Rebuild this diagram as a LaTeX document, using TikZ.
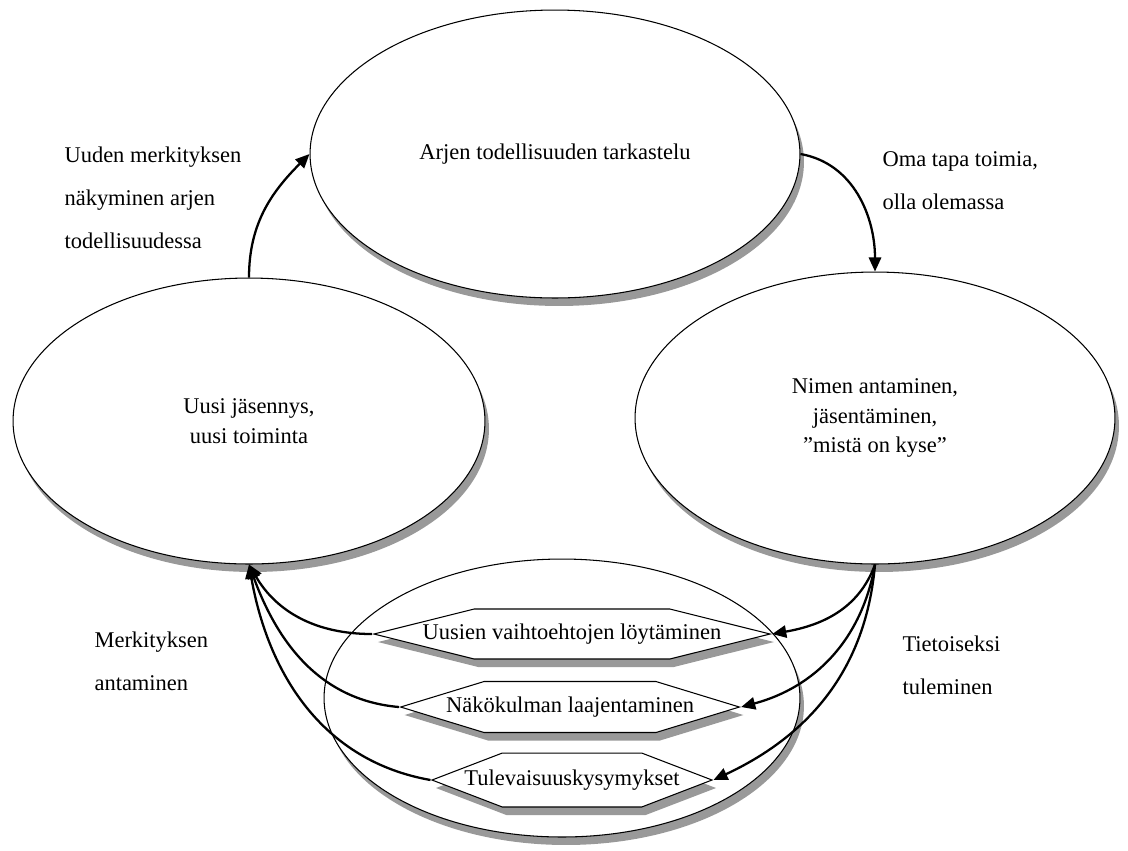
\documentclass[tikz,border=0pt]{standalone}
\usepackage{fontspec}
\setmainfont{Liberation Serif}
\usetikzlibrary{arrows.meta,shapes.geometric,shapes.symbols,shadows}

\begin{document}
\begin{tikzpicture}[x=0.02cm, y=-0.02cm, line width=0.6pt,
	font=\fontsize{12.8}{17}\selectfont,
	>={Triangle[length=8pt,width=7pt]},
	grayshadow/.style={drop shadow={shadow xshift=0.08cm, shadow yshift=-0.16cm, fill=black!40, opacity=1}},
	oval/.style={ellipse, draw, fill=white, grayshadow, align=center},
	hexbox/.style={signal, signal to=west and east, draw, fill=white, grayshadow, minimum width=0pt},
	link/.style={->, line width=1.3pt},
	note/.style={align=left, anchor=west, inner sep=0pt, font=\fontsize{12.8}{24.5}\selectfont}]
	\useasboundingbox (0, 0) rectangle (1128, 850);

	% Эллипсы цикла
	\node[oval, minimum width=9.8cm, minimum height=5.76cm] (arki) at (555, 154) {Arjen todellisuuden tarkastelu};
	\node[oval, minimum width=9.6cm, minimum height=5.84cm] (nimi) at (875, 418) {Nimen antaminen,\\ jäsentäminen,\\ ”mistä on kyse”};
	\node[oval, minimum width=9.44cm, minimum height=5.72cm] (uusi) at (249, 421) {Uusi jäsennys,\\ uusi toiminta};
	\node[oval, minimum width=9.52cm, minimum height=5.56cm] (pohja) at (562, 698) {};

	% Шестиугольники внутри нижнего эллипса
	\node[hexbox, inner xsep=-1.03cm, minimum height=1cm, signal pointer angle=28] (vaihto) at (572, 634) {Uusien vaihtoehtojen löytäminen};
	\node[hexbox, inner xsep=-0.76cm, minimum height=1.02cm, signal pointer angle=34] (kulma) at (570, 707) {Näkökulman laajentaminen};
	\node[hexbox, inner xsep=-0.76cm, minimum height=1.08cm, signal pointer angle=42] (tuleva) at (572, 780) {Tulevaisuuskysymykset};

	% Стрелки цикла
	\draw[link] (uusi.north) to[out=90, in=225] (arki.west);
	\draw[link] (arki.east) to[out=-10, in=90] (nimi.north);

	\draw[link] (nimi.south) to[out=-110, in=10] (vaihto.east);
	\draw[link] (nimi.south) to[out=-100, in=15] (kulma.east);
	\draw[link] (nimi.south) to[out=-95, in=25] (tuleva.east);

	\draw[link] (vaihto.west) to[out=180, in=-60] (uusi.south);
	\draw[link] (kulma.west) to[out=175, in=-70] (uusi.south);
	\draw[link] (tuleva.west) to[out=170, in=-80] (uusi.south);

	% Подписи
	\node[note] (t1) at (64, 198) {Uuden merkityksen\\ näkyminen arjen\\ todellisuudessa};
	\node[note] (t2) at (882, 181) {Oma tapa toimia,\\ olla olemassa};
	\node[note] (t3) at (94, 661) {Merkityksen\\ antaminen};
	\node[note] (t4) at (902, 665) {Tietoiseksi\\ tuleminen};
\end{tikzpicture}
\end{document}
